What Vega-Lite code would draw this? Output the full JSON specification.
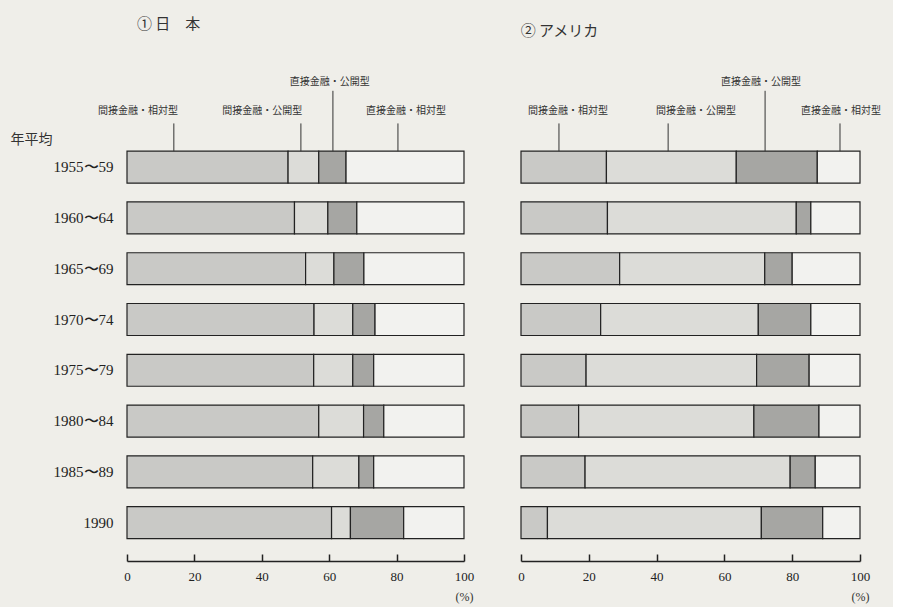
{
 "$schema": "https://vega.github.io/schema/vega-lite/v6.json",
 "background": "#efeee9",
 "padding": {"left": 10, "top": 17, "right": 11, "bottom": 5},
 "bounds": "flush",
 "spacing": 57,
 "config": {"view": {"stroke": null}, "font": "Liberation Serif"},
 "datasets": {
  "bars": [
   {"country": "日本", "period": "1955〜59", "type": "間接金融・相対型", "order": 1, "value": 47.8},
   {"country": "日本", "period": "1955〜59", "type": "間接金融・公開型", "order": 2, "value": 9.1},
   {"country": "日本", "period": "1955〜59", "type": "直接金融・公開型", "order": 3, "value": 8.1},
   {"country": "日本", "period": "1955〜59", "type": "直接金融・相対型", "order": 4, "value": 35.0},
   {"country": "日本", "period": "1960〜64", "type": "間接金融・相対型", "order": 1, "value": 49.7},
   {"country": "日本", "period": "1960〜64", "type": "間接金融・公開型", "order": 2, "value": 9.9},
   {"country": "日本", "period": "1960〜64", "type": "直接金融・公開型", "order": 3, "value": 8.6},
   {"country": "日本", "period": "1960〜64", "type": "直接金融・相対型", "order": 4, "value": 31.8},
   {"country": "日本", "period": "1965〜69", "type": "間接金融・相対型", "order": 1, "value": 53.0},
   {"country": "日本", "period": "1965〜69", "type": "間接金融・公開型", "order": 2, "value": 8.4},
   {"country": "日本", "period": "1965〜69", "type": "直接金融・公開型", "order": 3, "value": 8.9},
   {"country": "日本", "period": "1965〜69", "type": "直接金融・相対型", "order": 4, "value": 29.7},
   {"country": "日本", "period": "1970〜74", "type": "間接金融・相対型", "order": 1, "value": 55.5},
   {"country": "日本", "period": "1970〜74", "type": "間接金融・公開型", "order": 2, "value": 11.5},
   {"country": "日本", "period": "1970〜74", "type": "直接金融・公開型", "order": 3, "value": 6.6},
   {"country": "日本", "period": "1970〜74", "type": "直接金融・相対型", "order": 4, "value": 26.4},
   {"country": "日本", "period": "1975〜79", "type": "間接金融・相対型", "order": 1, "value": 55.4},
   {"country": "日本", "period": "1975〜79", "type": "間接金融・公開型", "order": 2, "value": 11.6},
   {"country": "日本", "period": "1975〜79", "type": "直接金融・公開型", "order": 3, "value": 6.2},
   {"country": "日本", "period": "1975〜79", "type": "直接金融・相対型", "order": 4, "value": 26.8},
   {"country": "日本", "period": "1980〜84", "type": "間接金融・相対型", "order": 1, "value": 56.9},
   {"country": "日本", "period": "1980〜84", "type": "間接金融・公開型", "order": 2, "value": 13.3},
   {"country": "日本", "period": "1980〜84", "type": "直接金融・公開型", "order": 3, "value": 6.0},
   {"country": "日本", "period": "1980〜84", "type": "直接金融・相対型", "order": 4, "value": 23.8},
   {"country": "日本", "period": "1985〜89", "type": "間接金融・相対型", "order": 1, "value": 55.1},
   {"country": "日本", "period": "1985〜89", "type": "間接金融・公開型", "order": 2, "value": 13.7},
   {"country": "日本", "period": "1985〜89", "type": "直接金融・公開型", "order": 3, "value": 4.4},
   {"country": "日本", "period": "1985〜89", "type": "直接金融・相対型", "order": 4, "value": 26.8},
   {"country": "日本", "period": "1990", "type": "間接金融・相対型", "order": 1, "value": 60.7},
   {"country": "日本", "period": "1990", "type": "間接金融・公開型", "order": 2, "value": 5.6},
   {"country": "日本", "period": "1990", "type": "直接金融・公開型", "order": 3, "value": 15.8},
   {"country": "日本", "period": "1990", "type": "直接金融・相対型", "order": 4, "value": 17.9},
   {"country": "アメリカ", "period": "1955〜59", "type": "間接金融・相対型", "order": 1, "value": 25.2},
   {"country": "アメリカ", "period": "1955〜59", "type": "間接金融・公開型", "order": 2, "value": 38.3},
   {"country": "アメリカ", "period": "1955〜59", "type": "直接金融・公開型", "order": 3, "value": 23.9},
   {"country": "アメリカ", "period": "1955〜59", "type": "直接金融・相対型", "order": 4, "value": 12.6},
   {"country": "アメリカ", "period": "1960〜64", "type": "間接金融・相対型", "order": 1, "value": 25.5},
   {"country": "アメリカ", "period": "1960〜64", "type": "間接金融・公開型", "order": 2, "value": 55.7},
   {"country": "アメリカ", "period": "1960〜64", "type": "直接金融・公開型", "order": 3, "value": 4.3},
   {"country": "アメリカ", "period": "1960〜64", "type": "直接金融・相対型", "order": 4, "value": 14.5},
   {"country": "アメリカ", "period": "1965〜69", "type": "間接金融・相対型", "order": 1, "value": 29.1},
   {"country": "アメリカ", "period": "1965〜69", "type": "間接金融・公開型", "order": 2, "value": 42.8},
   {"country": "アメリカ", "period": "1965〜69", "type": "直接金融・公開型", "order": 3, "value": 8.1},
   {"country": "アメリカ", "period": "1965〜69", "type": "直接金融・相対型", "order": 4, "value": 20.0},
   {"country": "アメリカ", "period": "1970〜74", "type": "間接金融・相対型", "order": 1, "value": 23.5},
   {"country": "アメリカ", "period": "1970〜74", "type": "間接金融・公開型", "order": 2, "value": 46.5},
   {"country": "アメリカ", "period": "1970〜74", "type": "直接金融・公開型", "order": 3, "value": 15.5},
   {"country": "アメリカ", "period": "1970〜74", "type": "直接金融・相対型", "order": 4, "value": 14.5},
   {"country": "アメリカ", "period": "1975〜79", "type": "間接金融・相対型", "order": 1, "value": 19.2},
   {"country": "アメリカ", "period": "1975〜79", "type": "間接金融・公開型", "order": 2, "value": 50.3},
   {"country": "アメリカ", "period": "1975〜79", "type": "直接金融・公開型", "order": 3, "value": 15.5},
   {"country": "アメリカ", "period": "1975〜79", "type": "直接金融・相対型", "order": 4, "value": 15.0},
   {"country": "アメリカ", "period": "1980〜84", "type": "間接金融・相対型", "order": 1, "value": 17.0},
   {"country": "アメリカ", "period": "1980〜84", "type": "間接金融・公開型", "order": 2, "value": 51.7},
   {"country": "アメリカ", "period": "1980〜84", "type": "直接金融・公開型", "order": 3, "value": 19.2},
   {"country": "アメリカ", "period": "1980〜84", "type": "直接金融・相対型", "order": 4, "value": 12.1},
   {"country": "アメリカ", "period": "1985〜89", "type": "間接金融・相対型", "order": 1, "value": 18.9},
   {"country": "アメリカ", "period": "1985〜89", "type": "間接金融・公開型", "order": 2, "value": 60.5},
   {"country": "アメリカ", "period": "1985〜89", "type": "直接金融・公開型", "order": 3, "value": 7.4},
   {"country": "アメリカ", "period": "1985〜89", "type": "直接金融・相対型", "order": 4, "value": 13.2},
   {"country": "アメリカ", "period": "1990", "type": "間接金融・相対型", "order": 1, "value": 7.8},
   {"country": "アメリカ", "period": "1990", "type": "間接金融・公開型", "order": 2, "value": 63.1},
   {"country": "アメリカ", "period": "1990", "type": "直接金融・公開型", "order": 3, "value": 18.1},
   {"country": "アメリカ", "period": "1990", "type": "直接金融・相対型", "order": 4, "value": 11.0}
  ],
  "ann": [
   {"country": "日本", "label": "間接金融・相対型", "level": "low", "pos": 3.3, "arrow": 13.9},
   {"country": "日本", "label": "間接金融・公開型", "level": "low", "pos": 40.1, "arrow": 51.6},
   {"country": "日本", "label": "直接金融・公開型", "level": "high", "pos": 60.2, "arrow": 61.1},
   {"country": "日本", "label": "直接金融・相対型", "level": "low", "pos": 82.8, "arrow": 80.4},
   {"country": "アメリカ", "label": "間接金融・相対型", "level": "low", "pos": 13.9, "arrow": 11.2},
   {"country": "アメリカ", "label": "間接金融・公開型", "level": "low", "pos": 51.6, "arrow": 43.4},
   {"country": "アメリカ", "label": "直接金融・公開型", "level": "high", "pos": 70.8, "arrow": 72.0},
   {"country": "アメリカ", "label": "直接金融・相対型", "level": "low", "pos": 94.4, "arrow": 94.1}
  ]
 },
 "hconcat": [
  {
   "width": 337, "height": 457,
   "title": {"text": "① 日　本", "anchor": "start", "frame": "bounds", "font": "Noto Sans CJK JP", "fontSize": 15, "fontWeight": "normal", "color": "#333", "dx": 127, "offset": 45},
   "layer": [
    {
     "data": {"name": "bars"},
     "transform": [{"filter": "datum.country == '日本'"}],
     "mark": {"type": "bar", "stroke": "#222", "strokeWidth": 1.2},
     "encoding": {
      "y": {"field": "period", "type": "nominal",
            "scale": {"domain": ["a1", "1955〜59", "1960〜64", "1965〜69", "1970〜74", "1975〜79", "1980〜84", "1985〜89", "1990"], "paddingInner": 0.37, "paddingOuter": 0.185},
            "axis": {"title": "年平均", "titleAngle": 0, "titleAlign": "left", "titleBaseline": "middle", "titleX": -117, "titleY": 48, "titleFont": "Noto Sans CJK JP", "titleFontSize": 14, "titleFontWeight": "normal", "titleColor": "#333",
                     "labelExpr": "datum.value == 'a1' ? '' : datum.value", "labelFontSize": 15, "labelColor": "#222", "domain": false, "ticks": false, "labelPadding": 14}},
      "x": {"field": "value", "type": "quantitative", "stack": "zero", "scale": {"domain": [0, 100]},
            "axis": {"title": "(%)", "titleX": 337, "titleY": 30, "titleAlign": "center", "titleFontWeight": "normal", "titleFontSize": 12, "titleColor": "#333",
                     "values": [0, 20, 40, 60, 80, 100], "offset": 13, "tickSize": -7, "labelPadding": 16, "grid": false, "labelFlush": false,
                     "domainColor": "#222", "domainWidth": 1.5, "tickColor": "#222", "tickWidth": 1.5, "labelFontSize": 13, "labelColor": "#222"}},
      "color": {"field": "type", "type": "nominal", "legend": null,
                "scale": {"domain": ["間接金融・相対型", "間接金融・公開型", "直接金融・公開型", "直接金融・相対型"], "range": ["#c9c9c6", "#dcdcd8", "#a6a6a3", "#f2f2ef"]}},
      "order": {"field": "order"}
     }
    },
    {
     "data": {"name": "ann"},
     "transform": [{"filter": "datum.country == '日本' && datum.level == 'low'"}],
     "mark": {"type": "text", "font": "Noto Sans CJK JP", "fontSize": 10, "color": "#333", "dy": -5},
     "encoding": {"x": {"field": "pos", "type": "quantitative"}, "y": {"datum": "a1", "type": "nominal"}, "text": {"field": "label"}}
    },
    {
     "data": {"name": "ann"},
     "transform": [{"filter": "datum.country == '日本' && datum.level == 'high'"}],
     "mark": {"type": "text", "font": "Noto Sans CJK JP", "fontSize": 10, "color": "#333", "dy": -34},
     "encoding": {"x": {"field": "pos", "type": "quantitative"}, "y": {"datum": "a1", "type": "nominal"}, "text": {"field": "label"}}
    },
    {
     "data": {"name": "ann"},
     "transform": [{"filter": "datum.country == '日本' && datum.level == 'low'"}],
     "mark": {"type": "rule", "color": "#333", "strokeWidth": 1},
     "encoding": {"x": {"field": "arrow", "type": "quantitative"}, "y": {"datum": "a1", "type": "nominal", "bandPosition": 0.72}, "y2": {"datum": "1955〜59", "bandPosition": 0}}
    },
    {
     "data": {"name": "ann"},
     "transform": [{"filter": "datum.country == '日本' && datum.level == 'high'"}],
     "mark": {"type": "rule", "color": "#333", "strokeWidth": 1},
     "encoding": {"x": {"field": "arrow", "type": "quantitative"}, "y": {"datum": "a1", "type": "nominal", "bandPosition": -0.3}, "y2": {"datum": "1955〜59", "bandPosition": 0}}
    }
   ]
  },
  {
   "width": 339, "height": 457,
   "title": {"text": "② アメリカ", "anchor": "start", "frame": "bounds", "font": "Noto Sans CJK JP", "fontSize": 15, "fontWeight": "normal", "color": "#333", "dx": 3, "offset": 38},
   "layer": [
    {
     "data": {"name": "bars"},
     "transform": [{"filter": "datum.country == 'アメリカ'"}],
     "mark": {"type": "bar", "stroke": "#222", "strokeWidth": 1.2},
     "encoding": {
      "y": {"field": "period", "type": "nominal",
            "scale": {"domain": ["a1", "1955〜59", "1960〜64", "1965〜69", "1970〜74", "1975〜79", "1980〜84", "1985〜89", "1990"], "paddingInner": 0.37, "paddingOuter": 0.185},
            "axis": null},
      "x": {"field": "value", "type": "quantitative", "stack": "zero", "scale": {"domain": [0, 100]},
            "axis": {"title": "(%)", "titleX": 339, "titleY": 30, "titleAlign": "center", "titleFontWeight": "normal", "titleFontSize": 12, "titleColor": "#333",
                     "values": [0, 20, 40, 60, 80, 100], "offset": 13, "tickSize": -7, "labelPadding": 16, "grid": false, "labelFlush": false,
                     "domainColor": "#222", "domainWidth": 1.5, "tickColor": "#222", "tickWidth": 1.5, "labelFontSize": 13, "labelColor": "#222"}},
      "color": {"field": "type", "type": "nominal", "legend": null,
                "scale": {"domain": ["間接金融・相対型", "間接金融・公開型", "直接金融・公開型", "直接金融・相対型"], "range": ["#c9c9c6", "#dcdcd8", "#a6a6a3", "#f2f2ef"]}},
      "order": {"field": "order"}
     }
    },
    {
     "data": {"name": "ann"},
     "transform": [{"filter": "datum.country == 'アメリカ' && datum.level == 'low'"}],
     "mark": {"type": "text", "font": "Noto Sans CJK JP", "fontSize": 10, "color": "#333", "dy": -5},
     "encoding": {"x": {"field": "pos", "type": "quantitative"}, "y": {"datum": "a1", "type": "nominal"}, "text": {"field": "label"}}
    },
    {
     "data": {"name": "ann"},
     "transform": [{"filter": "datum.country == 'アメリカ' && datum.level == 'high'"}],
     "mark": {"type": "text", "font": "Noto Sans CJK JP", "fontSize": 10, "color": "#333", "dy": -34},
     "encoding": {"x": {"field": "pos", "type": "quantitative"}, "y": {"datum": "a1", "type": "nominal"}, "text": {"field": "label"}}
    },
    {
     "data": {"name": "ann"},
     "transform": [{"filter": "datum.country == 'アメリカ' && datum.level == 'low'"}],
     "mark": {"type": "rule", "color": "#333", "strokeWidth": 1},
     "encoding": {"x": {"field": "arrow", "type": "quantitative"}, "y": {"datum": "a1", "type": "nominal", "bandPosition": 0.72}, "y2": {"datum": "1955〜59", "bandPosition": 0}}
    },
    {
     "data": {"name": "ann"},
     "transform": [{"filter": "datum.country == 'アメリカ' && datum.level == 'high'"}],
     "mark": {"type": "rule", "color": "#333", "strokeWidth": 1},
     "encoding": {"x": {"field": "arrow", "type": "quantitative"}, "y": {"datum": "a1", "type": "nominal", "bandPosition": -0.3}, "y2": {"datum": "1955〜59", "bandPosition": 0}}
    }
   ]
  }
 ]
}
